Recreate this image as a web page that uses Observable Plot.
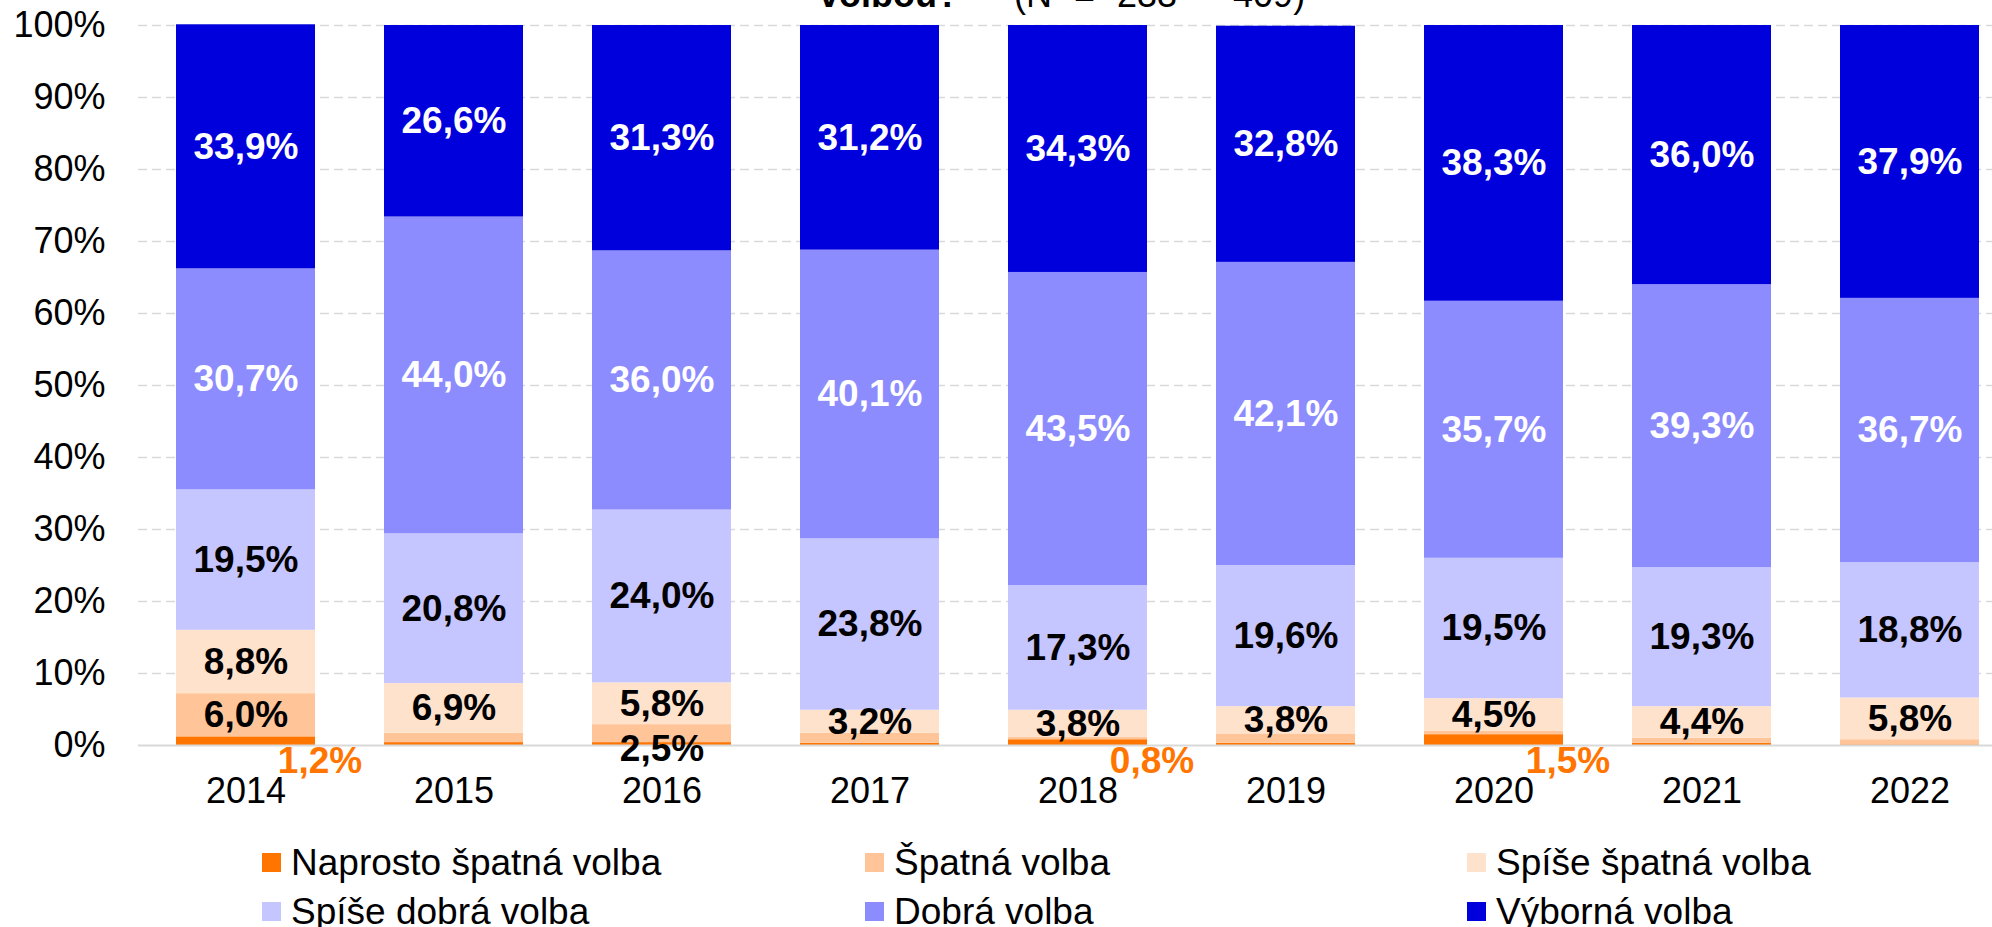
<!DOCTYPE html>
<html><head><meta charset="utf-8">
<script src="https://cdn.jsdelivr.net/npm/d3@7"></script>
<script src="https://cdn.jsdelivr.net/npm/@observablehq/plot@0.6"></script>
<style>
html,body{margin:0;padding:0;background:#fff;overflow:hidden;width:1992px;height:927px;}
body{position:relative;font-family:"Liberation Sans",Arial,sans-serif;color:#000;}
#chart{position:absolute;left:0;top:0;}
.title{position:absolute;top:-23px;font-size:36px;line-height:36px;white-space:pre;}
.leg{position:absolute;font-size:37px;line-height:37px;white-space:nowrap;}
.sw{position:absolute;width:19px;height:19px;}
</style></head><body>
<div class="title" style="left:819px;font-weight:bold;">volbou?</div>
<div class="title" style="left:1014px;word-spacing:12px;">(N = 233 - 409)</div>
<div id="chart"></div>
<div id="legend"></div>
<script>
const years = ["2014","2015","2016","2017","2018","2019","2020","2021","2022"];
const categories = ["Naprosto špatná volba","Špatná volba","Spíše špatná volba","Spíše dobrá volba","Dobrá volba","Výborná volba"];
const naprosto    = [1.2, 0.4, 0.4, 0.3, 0.8, 0.3, 1.5, 0.3, 0.1];
const spatna      = [6.0, 1.3, 2.5, 1.4, 0.3, 1.3, 0.5, 0.7, 0.7];
const spiseSpatna = [8.8, 6.9, 5.8, 3.2, 3.8, 3.8, 4.5, 4.4, 5.8];
const spiseDobra  = [19.5, 20.8, 24.0, 23.8, 17.3, 19.6, 19.5, 19.3, 18.8];
const dobra       = [30.7, 44.0, 36.0, 40.1, 43.5, 42.1, 35.7, 39.3, 36.7];
const vyborna     = [33.9, 26.6, 31.3, 31.2, 34.3, 32.8, 38.3, 36.0, 37.9];
const colors = ["#ff7500", "#ffc599", "#ffe2cc", "#c5c5ff", "#8c8cff", "#0000dc"];
const yTicks = [0, 10, 20, 30, 40, 50, 60, 70, 80, 90, 100];
// which small labels Excel showed
const spatnaLabelYears = ["2014", "2016"];
const naprostoLabelYears = ["2014", "2018", "2020"];

const series = [naprosto, spatna, spiseSpatna, spiseDobra, dobra, vyborna];
const fmt = v => v.toFixed(1).replace(".", ",") + "%";

const table = [];
years.forEach((year, i) => {
  let acc = 0;
  series.forEach((vals, k) => {
    const v = vals[i];
    table.push({year, cat: categories[k], k, value: v, y1: acc, y2: acc + v, mid: acc + v / 2, label: fmt(v)});
    acc += v;
  });
});

const whiteLabels = table.filter(d => d.k >= 4);
const blackLabels = table.filter(d => d.k === 2 || d.k === 3 || (d.k === 1 && d.year === spatnaLabelYears[0]));
const spatnaBelow = table.filter(d => d.k === 1 && d.year === spatnaLabelYears[1]);
const naprostoBelow = table.filter(d => d.k === 0 && naprostoLabelYears.includes(d.year));

const font = "'Liberation Sans', Arial, sans-serif";

const chart = Plot.plot({
  width: 1992,
  height: 830,
  marginLeft: 138,
  marginRight: -25,
  marginTop: 25,
  marginBottom: 85,
  style: {fontFamily: font, background: "transparent"},
  x: {domain: years, paddingInner: 0.33, paddingOuter: 0.165, label: null},
  y: {domain: [0, 100], label: null},
  color: {domain: categories, range: colors},
  marks: [
    Plot.ruleY(yTicks.filter(d => d > 0), {stroke: "#d9d9d9", strokeWidth: 1.5, strokeDasharray: "9,5"}),
    Plot.barY(table, {x: "year", y1: "y1", y2: "y2", fill: "cat"}),
    Plot.ruleY([0], {stroke: "#d9d9d9", strokeWidth: 2}),
    Plot.text(whiteLabels, {x: "year", y: "mid", text: "label", fill: "white", fontWeight: "bold", fontSize: 37, fontFamily: font}),
    Plot.text(blackLabels, {x: "year", y: "mid", text: "label", fill: "black", fontWeight: "bold", fontSize: 37, fontFamily: font}),
    Plot.text(spatnaBelow, {x: "year", y: 0, dy: 4, text: "label", fill: "black", fontWeight: "bold", fontSize: 37, fontFamily: font}),
    Plot.text(naprostoBelow, {x: "year", y: 0, dx: 74, dy: 16, text: "label", fill: "#ff7500", fontWeight: "bold", fontSize: 37, fontFamily: font}),
    Plot.axisY({ticks: yTicks, tickSize: 0, tickPadding: 33, tickFormat: d => d + "%", fontSize: 36, fill: "black"}),
    Plot.axisX({tickSize: 0, tickPadding: 32, fontSize: 36, fill: "black"})
  ]
});
document.getElementById("chart").appendChild(chart);

// legend
const legend = document.getElementById("legend");
const colX = [262, 865, 1467];
const rowY = [862, 911.5];
categories.forEach((c, i) => {
  const col = i % 3, row = Math.floor(i / 3);
  const sw = document.createElement("div");
  sw.className = "sw";
  sw.style.left = colX[col] + "px";
  sw.style.top = (rowY[row] - 9.5) + "px";
  sw.style.background = colors[i];
  legend.appendChild(sw);
  const t = document.createElement("div");
  t.className = "leg";
  t.style.left = (colX[col] + 29) + "px";
  t.style.top = (rowY[row] - 18.5) + "px";
  t.textContent = c;
  legend.appendChild(t);
});
</script>
</body></html>
